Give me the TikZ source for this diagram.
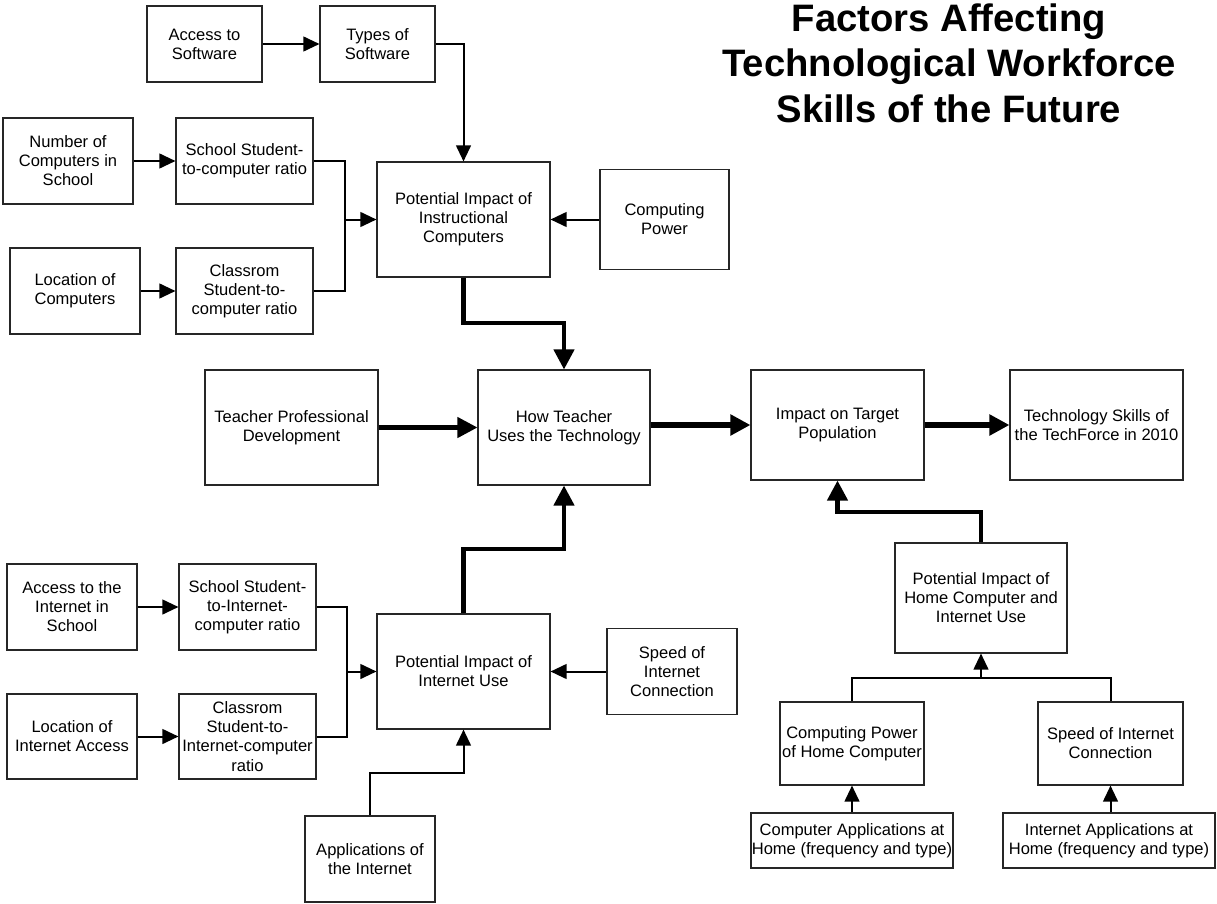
\documentclass[tikz,border=0pt]{standalone}
\usepackage{fontspec}
\setmainfont{Liberation Sans}
\usetikzlibrary{arrows.meta}
\begin{document}
\begin{tikzpicture}[x=0.75pt,y=-0.75pt,
  bx/.style 2 args={draw=black!85, line width=0.8pt, rectangle, align=center,
     inner sep=0.5pt, minimum width=#1*0.75pt, minimum height=#2*0.75pt,
     font=\fontsize{12.4}{14.3}\selectfont},
  thinarr/.style={line width=1.5pt, -{Triangle[length=12pt,width=11pt]}},
  thinline/.style={line width=1.5pt},
  thickarr/.style={line width=3.2pt, -{Triangle[length=15pt,width=15pt]}},
  ttl/.style={align=center, font=\fontsize{28.7}{34}\selectfont\bfseries}
]
\useasboundingbox (0,0) rectangle (1217,903);

% title
\node[ttl] (title) at (949,63) {Factors Affecting\\Technological Workforce\\Skills of the Future};

% top-left group
\node[bx={115}{76}] (aSw) at (204.5,44) {Access to\\Software};
\node[bx={115}{76}] (tSw) at (377.5,44) {Types of\\Software};
\node[bx={130}{86}] (nComp) at (68,161) {Number of\\Computers in\\School};
\node[bx={137}{86}] (sRatio) at (244.5,161) {School Student-\\to-computer ratio};
\node[bx={130}{86}] (lComp) at (75,291) {Location of\\Computers};
\node[bx={137}{86}] (cRatio) at (244.5,291) {Classrom\\Student-to-\\computer ratio};
\node[bx={173}{115}] (piic) at (463.5,219.5) {Potential Impact of\\Instructional\\Computers};
\node[bx={129}{100}] (cPow) at (664.5,219.5) {Computing\\Power};

% middle row
\node[bx={173}{115}] (tpd) at (291.5,427.5) {Teacher Professional\\Development};
\node[bx={172}{115}] (htu) at (564,427.5) {How Teacher\\Uses the Technology};
\node[bx={173}{110}] (itp) at (837.5,425) {Impact on Target\\Population};
\node[bx={173}{110}] (tsk) at (1096.5,425) {Technology Skills of\\the TechForce in 2010};

% bottom-right group
\node[bx={172}{110}] (pih) at (981,598) {Potential Impact of\\Home Computer and\\Internet Use};
\node[bx={144}{83}] (cphc) at (852,743.5) {Computing Power\\of Home Computer};
\node[bx={145}{83}] (sic2) at (1110.5,743.5) {Speed of Internet\\Connection};
\node[bx={202}{55}] (cah) at (852,840.5) {Computer Applications at\\Home (frequency and type)};
\node[bx={212}{55}] (iah) at (1109,840.5) {Internet Applications at\\Home (frequency and type)};

% bottom-left group
\node[bx={130}{86}] (aint) at (72,607) {Access to the\\Internet in\\School};
\node[bx={137}{86}] (ssir) at (247.5,607) {School Student-\\to-Internet-\\computer ratio};
\node[bx={130}{85}] (lint) at (72,736.5) {Location of\\Internet Access};
\node[bx={137}{85}] (csir) at (247.5,736.5) {Classrom\\Student-to-\\Internet-computer\\ratio};
\node[bx={173}{115}] (piiu) at (463.5,671.5) {Potential Impact of\\Internet Use};
\node[bx={130}{86}] (sic1) at (672,671.5) {Speed of\\Internet\\Connection};
\node[bx={130}{86}] (aoi) at (370,859) {Applications of\\the Internet};

% helper coordinates
\coordinate (j1) at (345,219.5);
\coordinate (j2) at (347,671.5);
\coordinate (j3) at (981,678);
\coordinate (b1) at (463.5,323);
\coordinate (b2) at (463.5,549);
\coordinate (b3) at (981,512);
\coordinate (b4) at (463.5,773);

% thin connectors
\draw[thinarr] (aSw.east) -- (tSw.west);
\draw[thinarr] (tSw.east) -| (piic.north);
\draw[thinarr] (nComp.east) -- (sRatio.west);
\draw[thinarr] (lComp.east) -- (cRatio.west);
\draw[thinline] (sRatio.east) -| (j1);
\draw[thinline] (cRatio.east) -| (j1);
\draw[thinarr] (j1) -- (piic.west);
\draw[thinarr] (cPow.west) -- (piic.east);

\draw[thinarr] (aint.east) -- (ssir.west);
\draw[thinarr] (lint.east) -- (csir.west);
\draw[thinline] (ssir.east) -| (j2);
\draw[thinline] (csir.east) -| (j2);
\draw[thinarr] (j2) -- (piiu.west);
\draw[thinarr] (sic1.west) -- (piiu.east);
\draw[thinarr] (aoi.north) |- (b4) -- (piiu.south);

\draw[thinline] (cphc.north) |- (j3);
\draw[thinline] (sic2.north) |- (j3);
\draw[thinarr] (j3) -- (pih.south);
\draw[thinarr] (cah.north) -- (cphc.south);
\draw[thinarr] (iah.north -| sic2.south) -- (sic2.south);

% thick connectors
\draw[thickarr] (piic.south) -- (b1) -| (htu.north);
\draw[thickarr] (piiu.north) -- (b2) -| (htu.south);
\draw[thickarr] (tpd.east) -- (htu.west);
\draw[thickarr, line width=4pt] (htu.east |- itp.west) -- (itp.west);
\draw[thickarr, line width=4pt] (itp.east) -- (tsk.west);
\draw[thickarr] (pih.north) -- (b3) -| (itp.south);
\end{tikzpicture}
\end{document}
